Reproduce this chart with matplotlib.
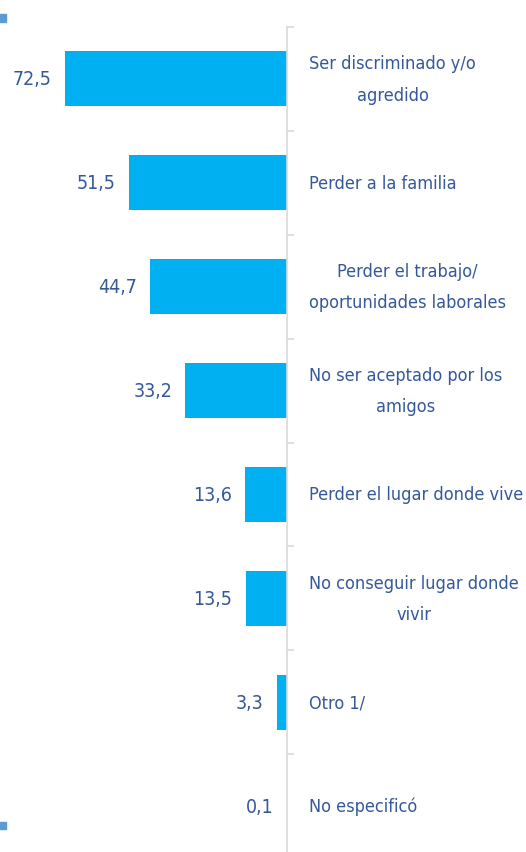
import matplotlib
matplotlib.use("Agg")
import matplotlib.pyplot as plt
from matplotlib.patches import Rectangle

categorias = ["Ser discriminado y/o\nagredido",
              "Perder a la familia",
              "Perder el trabajo/\noportunidades laborales",
              "No ser aceptado por los\namigos",
              "Perder el lugar donde vive",
              "No conseguir lugar donde\nvivir",
              "Otro 1/",
              "No especificó"]
valores = [72.5, 51.5, 44.7, 33.2, 13.6, 13.5, 3.3, 0.1]
etiquetas = ["72,5", "51,5", "44,7", "33,2", "13,6", "13,5", "3,3", "0,1"]

azul = "#00B0F0"
texto = "#34589A"

# DejaVu Sans Condensed (la letra del original es angosta)
plt.rcParams['font.family'] = ['DejaVu Sans']
plt.rcParams['font.stretch'] = 'condensed'

W, H = 526, 853
fig = plt.figure(figsize=(W / 100, H / 100), dpi=100)
# eje en x=287 px, primera marca en y=28 px
ax = fig.add_axes([0, -6 / H, 287 / W, (H - 28 + 6) / H])

pos = list(range(len(valores)))
ax.barh(pos, valores, height=0.53, color=azul)
ax.set_xlim(287 / 3.065, 0)
ax.set_ylim(len(valores) - 0.5, -0.5)

for p, v, e in zip(pos, valores, etiquetas):
    ax.annotate(e, xy=(v, p), xytext=(-9.5, 0), textcoords="offset points",
                ha="right", va="center", fontsize=14, color=texto)

for s in ["top", "bottom", "left"]:
    ax.spines[s].set_visible(False)
ax.spines["right"].set_color("#D9D9D9")
ax.spines["right"].set_linewidth(1.2)
ax.xaxis.set_visible(False)

ax.yaxis.tick_right()
ax.set_yticks(pos)
ax.set_yticklabels(categorias, fontsize=13, color=texto)
ax.tick_params(axis="y", which="major", length=0, pad=16)
for lab in ax.get_yticklabels():
    lab.set_multialignment("center")
    lab.set_linespacing(1.95)
    lab.set_verticalalignment("center")
ax.set_yticks([p - 0.5 for p in pos] + [len(pos) - 0.5], minor=True)
ax.tick_params(axis="y", which="minor", length=5, width=1.2, color="#D9D9D9", right=True)

# marcas azules del borde izquierdo
fig.patches.append(Rectangle((0, 1 - 23 / H), 6 / W, 8 / H, transform=fig.transFigure,
                             color="#5B9BD5", figure=fig))
fig.patches.append(Rectangle((0, 1 - 830 / H), 6 / W, 7 / H, transform=fig.transFigure,
                             color="#5B9BD5", figure=fig))

fig.savefig("out.png", dpi=100)
